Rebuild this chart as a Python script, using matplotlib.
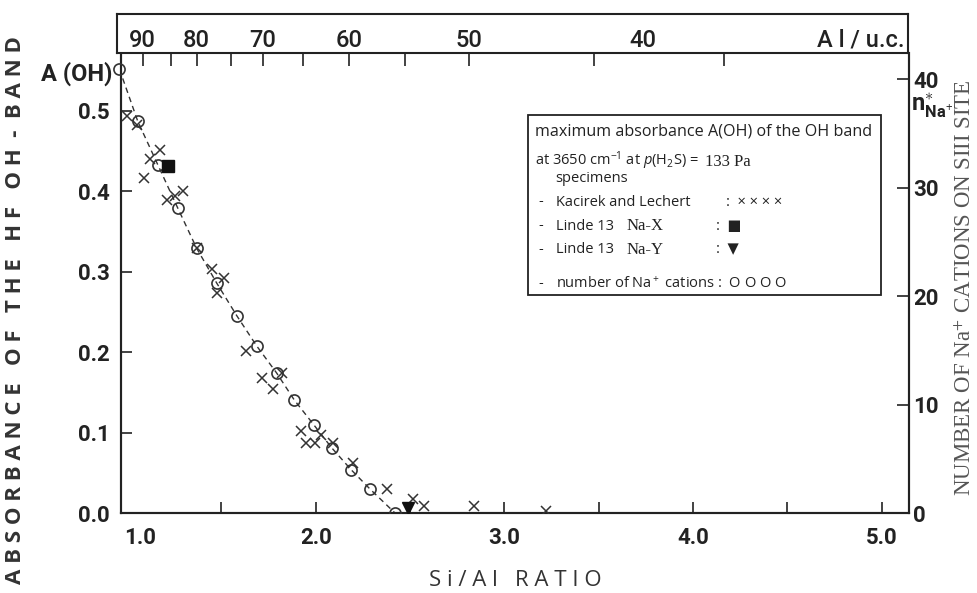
import matplotlib
matplotlib.use("Agg")
import matplotlib.pyplot as plt
from matplotlib.patches import Rectangle
from matplotlib.transforms import ScaledTranslation

# ---------------- data ----------------
kac_x = [1.0, 1.051, 1.09, 1.122, 1.175, 1.214, 1.254, 1.295, 1.369, 1.452, 1.475,
         1.514, 1.631, 1.717, 1.772, 1.82, 1.92, 1.949, 1.996, 2.026, 2.09, 2.196,
         2.38, 2.514, 2.576, 2.84, 3.219]
kac_y = [0.494, 0.4826, 0.417, 0.440, 0.4515, 0.389, 0.3947, 0.401, 0.329, 0.304, 0.273,
         0.292, 0.2019, 0.1683, 0.1538, 0.1737, 0.1024, 0.0875, 0.0875, 0.097, 0.0867, 0.0618,
         0.0295, 0.017, 0.0087, 0.0087, 0.003]

nax_x = [1.219]
nax_y = [0.4316]
nay_x = [2.488]
nay_y = [0.006]

na_x = [0.96, 1.057, 1.163, 1.269, 1.369, 1.475, 1.581, 1.687, 1.793, 1.887,
        1.991, 2.085, 2.187, 2.288, 2.42]
na_n = [40.9, 36.1, 32.1, 28.1, 24.4, 21.2, 18.2, 15.4, 12.9, 10.4,
        8.1, 6.0, 4.0, 2.2, 0.0]

x_ticks = [1.0, 1.5, 2.0, 2.5, 3.0, 3.5, 4.0, 4.5, 5.0]
x_ticklabels = ["1.0", "", "2.0", "", "3.0", "", "4.0", "", "5.0"]
y_ticks = [0.0, 0.1, 0.2, 0.3, 0.4, 0.5]
y_ticklabels = ["0.0", "0.1", "0.2", "0.3", "0.4", "0.5"]
r_ticks = [0, 10, 20, 30, 40]
r_ticklabels = ["0", "10", "20", "30", "40"]

# top axis (Al per unit cell), positions on the Si/Al scale
top_tick_pos = [1.083, 1.233, 1.369, 1.551, 1.719, 1.931, 2.175, 2.475, 2.814, 3.475, 4.164]
top_label_pos = [1.083, 1.369, 1.719, 2.175, 2.814, 3.735]
top_labels = ["90", "80", "70", "60", "50", "40"]

# ---------------- layout ----------------
W, H = 977, 593
INK = "#222222"
plt.rcParams['font.family'] = ['Roboto', 'DejaVu Sans']
plt.rcParams['mathtext.fontset'] = 'custom'
plt.rcParams['mathtext.rm'] = 'Open Sans'
plt.rcParams['mathtext.it'] = 'Open Sans:italic'
plt.rcParams['mathtext.bf'] = 'Roboto:bold'

fig = plt.figure(figsize=(W / 100, H / 100), dpi=100)

def fx(px):
    return px / W

def fy(py):
    return 1 - py / H

L, R, T, B = 121, 909, 53, 513
ax = fig.add_axes([fx(L), fy(B), (R - L) / W, (B - T) / H])
ax.set_xlim(0.968, 5.144)
ax.set_ylim(0, 0.572)
ax2 = ax.twinx()
ax2.set_ylim(0, 42.4)

for a in (ax, ax2):
    for s in a.spines.values():
        s.set_linewidth(1.5)
        s.set_color(INK)
    a.spines['top'].set_visible(False)

ax.set_xticks(x_ticks)
ax.set_xticklabels(x_ticklabels)
ax.set_yticks(y_ticks)
ax.set_yticklabels(y_ticklabels)
ax.tick_params(axis='x', direction='in', length=8, width=1.2, pad=10, labelsize=16,
               colors=INK)
ax.tick_params(axis='y', direction='in', length=8, width=1.2, pad=8, labelsize=16,
               colors=INK)
ax.xaxis.get_major_ticks()[0].tick1line.set_visible(False)
ax.yaxis.get_major_ticks()[0].tick1line.set_visible(False)
lab0 = ax.get_xticklabels()[0]
lab0.set_transform(lab0.get_transform() + ScaledTranslation(13 / 100, 0, fig.dpi_scale_trans))

ax2.set_yticks(r_ticks)
ax2.set_yticklabels(r_ticklabels)
ax2.tick_params(axis='y', direction='in', length=9, width=1.2, pad=3, labelsize=16,
                colors=INK)
ax2.yaxis.get_major_ticks()[0].tick2line.set_visible(False)

for lab in ax.get_xticklabels() + ax.get_yticklabels() + ax2.get_yticklabels():
    lab.set_fontweight('bold')

# data marks
ax2.plot(na_x, na_n, linestyle=(0, (4, 3)), color="#333333", lw=1.0, zorder=2)
ax2.plot(na_x[:-1], na_n[:-1], 'o', ms=8, mfc='none', mec="#333333", mew=1.2,
         clip_on=False, zorder=3)
ax2.plot(na_x[-1:], na_n[-1:], 'o', ms=8, mfc='none', mec="#333333", mew=1.2,
         clip_on=True, zorder=3)
ax2.plot(kac_x, [v * 42.4 / 0.572 for v in kac_y], 'x', ms=7.5, mec="#333333", mew=1.1,
         zorder=3)
ax2.plot(nax_x, [v * 42.4 / 0.572 for v in nax_y], 's', ms=8, color="#111111", zorder=4)
ax2.plot(nay_x, [v * 42.4 / 0.572 for v in nay_y], 'v', ms=8, color="#111111", zorder=4)

# ---------------- top box axis ----------------
axt = fig.add_axes([fx(117), fy(53), (908 - 117) / W, (53 - 14) / H])
axt.set_xlim(0.947, 5.139)
axt.set_ylim(0, 1)
axt.set_yticks([])
axt.set_xticks(top_tick_pos)
axt.tick_params(axis='x', direction='out', length=9, width=1.2, labelbottom=False,
                colors=INK)
for s in axt.spines.values():
    s.set_linewidth(1.5)
    s.set_color(INK)
for p, t in zip(top_label_pos, top_labels):
    axt.text(p, 0.33, t, ha='center', va='center', fontsize=17, color=INK,
             fontweight='medium')
axt.text(0.995, 0.33, "A l / u.c.", transform=axt.transAxes, ha='right', va='center',
         fontsize=17, color=INK, fontweight='medium')

# ---------------- axis labels ----------------
fig.text(fx(16), fy(310), "A B S O R B A N C E   O F   T H E   H F   O H  -  B A N D",
         rotation=90, ha='center', va='center', fontsize=16, fontweight='bold',
         color="#333333", family=['Open Sans', 'DejaVu Sans'])
fig.text(fx(112), fy(74), "A (OH)", ha='right', va='center', fontsize=17,
         fontweight='bold', color=INK)
fig.text(fx(515), fy(581), "S i / A l   R A T I O", ha='center', va='center',
         fontsize=16, color="#333333", family=['Open Sans', 'DejaVu Sans'])
fig.text(fx(965), fy(288), "NUMBER OF Na$^{+}$ CATIONS ON SIII SITE", rotation=90,
         ha='center', va='center', fontsize=16.5, color="#555555",
         family=['Liberation Serif'], math_fontfamily='stix')
fig.text(fx(911), fy(111), r"$\mathbf{n}^{\ast}_{\mathbf{Na}^{+}}$", ha='left',
         va='baseline', fontsize=17, color=INK)

# ---------------- legend box ----------------
fig.add_artist(Rectangle((fx(528), fy(295)), (881 - 528) / W, (295 - 115) / H,
                         transform=fig.transFigure, fill=False, lw=1.3, ec=INK))
sans = ['Open Sans', 'DejaVu Sans']
serif = ['Liberation Serif']
fs = 10.5

def lt(px, py, s, fam=sans, size=fs):
    fig.text(fx(px), fy(py), s, ha='left', va='center', fontsize=size, color=INK,
             family=fam)

lt(535, 131, "maximum absorbance A(OH) of the OH band", size=11.6)
lt(535, 161, "at 3650 cm$^{-1}$ at $p$(H$_2$S) =", size=10.5)
lt(705, 162, "133 Pa", serif, 12)
lt(555, 179, "specimens")
for py, name in [(202, "Kacirek and Lechert"), (226, "Linde 13"), (250, "Linde 13")]:
    lt(538, py, "-")
    lt(556, py, name)
lt(627, 226, "Na-X", serif, 12)
lt(627, 250, "Na-Y", serif, 12)
lt(726, 202, ":  × × × ×")
lt(716, 226, ":  ■")
lt(716, 250, ":  ▼")
lt(538, 284, "-")
lt(556, 284, "number of Na$^+$ cations :  O O O O")

fig.savefig("out.png", dpi=100)
